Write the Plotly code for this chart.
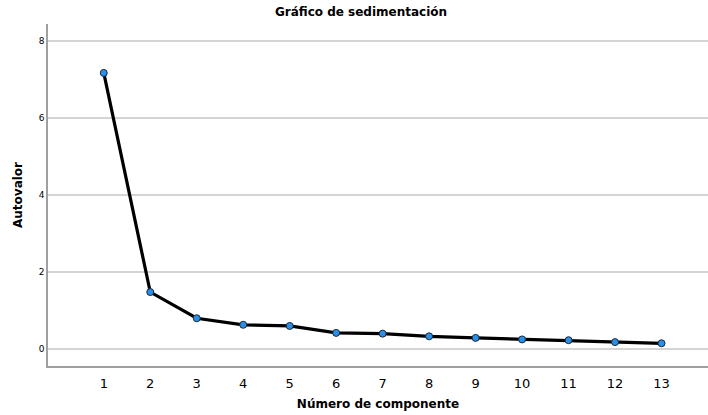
import plotly.graph_objects as go

componentes = list(range(1, 14))
autovalores = [7.17, 1.48, 0.80, 0.63, 0.60, 0.42, 0.40, 0.33, 0.29, 0.25, 0.23, 0.18, 0.15]
y_ticks = [0, 2, 4, 6, 8]

fig = go.Figure()
fig.add_trace(go.Scatter(
    x=componentes, y=autovalores, mode="lines+markers",
    line=dict(color="black", width=3.2),
    marker=dict(color="#2a8fe8", size=7, line=dict(color="#1a2a3a", width=1)),
    showlegend=False,
))

fig.update_layout(
    width=708, height=415,
    margin=dict(l=48, r=0, t=24, b=49),
    paper_bgcolor="white", plot_bgcolor="white",
    font=dict(family="DejaVu Sans", color="black"),
    title=dict(text="<b>Gráfico de sedimentación</b>", x=361/708, xanchor="center",
               xref="container", y=1 - 12/415, yanchor="middle", yref="container",
               font=dict(size=12, family="DejaVu Sans")),
)
fig.update_xaxes(
    range=[-0.2, 14], tickmode="array", tickvals=componentes,
    ticktext=[str(c) for c in componentes], tickfont=dict(size=13),
    showgrid=False, showline=True, linecolor="#a0a0a0", linewidth=1.5,
    ticks="outside", ticklen=5, tickcolor="rgba(0,0,0,0)", zeroline=False,
    title=dict(text="<b>Número de componente</b>", font=dict(size=12), standoff=9),
)
fig.update_yaxes(
    range=[-0.44, 8.44], tickmode="array", tickvals=y_ticks,
    ticktext=[str(v) for v in y_ticks], tickfont=dict(size=9),
    showgrid=True, gridcolor="#d4d4d4", gridwidth=1.5,
    showline=True, linecolor="#a0a0a0", linewidth=1.5,
    ticks="", zeroline=False,
    title=dict(text="<b>Autovalor</b>", font=dict(size=12), standoff=14),
)

fig.write_html("out.html", config={"displayModeBar": False},
               post_script="document.body.style.margin='0';")
